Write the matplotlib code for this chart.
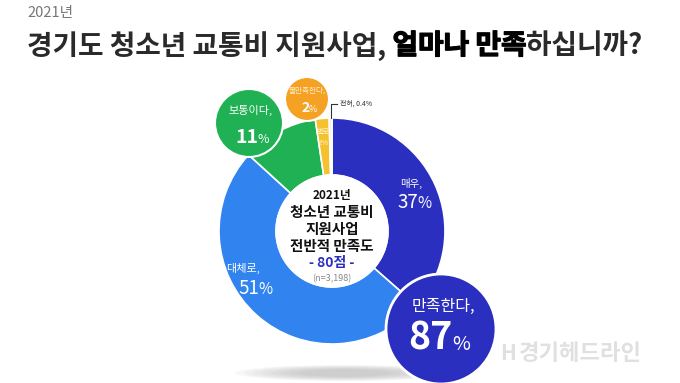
import matplotlib
matplotlib.use("Agg")
import matplotlib.pyplot as plt
import matplotlib.patheffects as pe
from matplotlib.patches import Circle, Ellipse

plt.rcParams['font.family'] = ['Noto Sans CJK KR', 'DejaVu Sans']

W, H = 680, 383

# 데이터
labels = ['매우', '대체로', '보통이다', '별로', '전혀']
values = [37, 51, 11, 2, 0.4]
colors = ['#2b2fbf', '#3183ef', '#1fb153', '#f4c22e', '#f3ecd0']
satisfied = 87
neutral = 11
unsatisfied = 2
score = 80
n_resp = '3,198'


def P(x, y):
    # 픽셀 좌표 -> 데이터 좌표
    return x, H - y


fig = plt.figure(figsize=(W / 100, H / 100), dpi=100)
ax = fig.add_axes([0, 0, 1, 1])

# 그림자
for i in range(8):
    ax.add_patch(Ellipse(P(345, 373), 220 - i * 18, 16 - i * 1.2,
                         color='#9a9a9a', alpha=0.07, lw=0, zorder=0))

# 도넛
cx, cy = P(332, 231)
ax.pie(values, colors=colors, startangle=90, counterclock=False,
       radius=113, center=(cx, cy),
       wedgeprops=dict(width=57, edgecolor='white', linewidth=1.2))
ax.add_patch(Circle((cx, cy), 56, color='white', zorder=3))

# 가운데 텍스트
ax.text(*P(332, 196), '2021년', ha='center', va='center', fontsize=8.5,
        fontweight='bold', color='#111111', zorder=4)
ax.text(*P(332, 212), '청소년 교통비', ha='center', va='center', fontsize=10.5,
        fontweight='bold', color='#111111', zorder=4)
ax.text(*P(332, 229), '지원사업', ha='center', va='center', fontsize=10.5,
        fontweight='bold', color='#111111', zorder=4)
ax.text(*P(332, 246), '전반적 만족도', ha='center', va='center', fontsize=10.5,
        fontweight='bold', color='#111111', zorder=4)
ax.text(*P(332, 263), f'- {score}점 -', ha='center', va='center', fontsize=10,
        fontweight='bold', color='#2b2fbf', zorder=4)
ax.text(*P(332, 279), f'(n={n_resp})', ha='center', va='center', fontsize=6.5,
        color='#888888', zorder=4)


def pct(x, y, num, size, pct_size, weight='normal', color='white', z=6):
    ax.text(*P(x, y), f'{num}', ha='right', va='baseline', fontsize=size,
            fontweight=weight, color=color, zorder=z)
    ax.text(*P(x - 1, y), '%', ha='left', va='baseline', fontsize=pct_size,
            color=color, zorder=z)


# 조각 라벨
ax.text(*P(411, 183), f'{labels[0]},', ha='center', va='center', fontsize=7.5,
        color='white', zorder=5)
pct(418, 208, values[0], 13.5, 11)
ax.text(*P(243, 268), f'{labels[1]},', ha='center', va='center', fontsize=8,
        color='white', zorder=5)
pct(259, 294, values[1], 13.5, 11)
ax.text(*P(323, 132), labels[3], ha='center', va='center', fontsize=5,
        color='#fff4c8', zorder=5)
ax.text(*P(323, 143), f'{values[3]}%', ha='center', va='center', fontsize=5.5,
        color='#fff4c8', zorder=5)

# 전혀 라벨
ax.plot([P(331, 118)[0], P(331, 104)[0], P(337, 104)[0]],
        [P(331, 118)[1], P(331, 104)[1], P(337, 104)[1]],
        color='#333333', lw=0.8, zorder=5)
ax.text(*P(340, 104), f'{labels[4]}, {values[4]}%', ha='left', va='center',
        fontsize=5, color='#333333', zorder=5)

# 보통이다 원
ax.add_patch(Circle(P(249, 123), 34, facecolor='#1fb153', edgecolor='white',
                    lw=1.5, zorder=5))
ax.text(*P(251, 110), '보통이다,', ha='center', va='center', fontsize=8,
        color='white', zorder=6)
pct(258, 143, neutral, 14, 9, weight='bold')

# 불만족한다 원
ax.add_patch(Circle(P(307, 99), 22, facecolor='#f5a124', edgecolor='white',
                    lw=1.5, zorder=5))
ax.text(*P(307, 91), '불만족한다,', ha='center', va='center', fontsize=5.5,
        color='#fff0d0', zorder=6)
pct(310, 112, unsatisfied, 10, 6.5, weight='bold')

# 만족한다 원
ax.add_patch(Circle(P(441, 329), 55, facecolor='#2b2fbf', edgecolor='white',
                    lw=2, zorder=5))
ax.text(*P(443, 306), '만족한다,', ha='center', va='center', fontsize=11.5,
        color='white', zorder=6)
pct(453, 350, satisfied, 27, 14, weight='bold')

# 제목
ax.text(*P(27, 13), '2021년', ha='left', va='center', fontsize=10.5,
        color='#777777')
heavy = [pe.withStroke(linewidth=0.9, foreground='#000000')]
parts = [('경기도 청소년 교통비 지원사업, ', '#2a2a2a', None),
         ('얼마나 만족', '#000000', heavy),
         ('하십니까?', '#2a2a2a', None)]
fig.canvas.draw()
r = fig.canvas.get_renderer()
x0 = 27
for s, col, eff in parts:
    t = ax.text(*P(x0, 46), s, ha='left', va='center', fontsize=20,
                fontweight='bold', color=col, path_effects=eff)
    bb = t.get_window_extent(renderer=r)
    x0 += bb.width

# 워터마크
ax.text(*P(580, 354), '경기헤드라인', ha='center', va='center', fontsize=16,
        fontweight='bold', color='#e0e0e0', zorder=1)
ax.text(*P(508, 354), 'H', ha='center', va='center', fontsize=15,
        fontweight='bold', color='#e0e0e0', zorder=1)

ax.set_xlim(0, W)
ax.set_ylim(0, H)
ax.set_aspect('equal')
ax.axis('off')
fig.savefig('out.png', dpi=100, facecolor='white')
